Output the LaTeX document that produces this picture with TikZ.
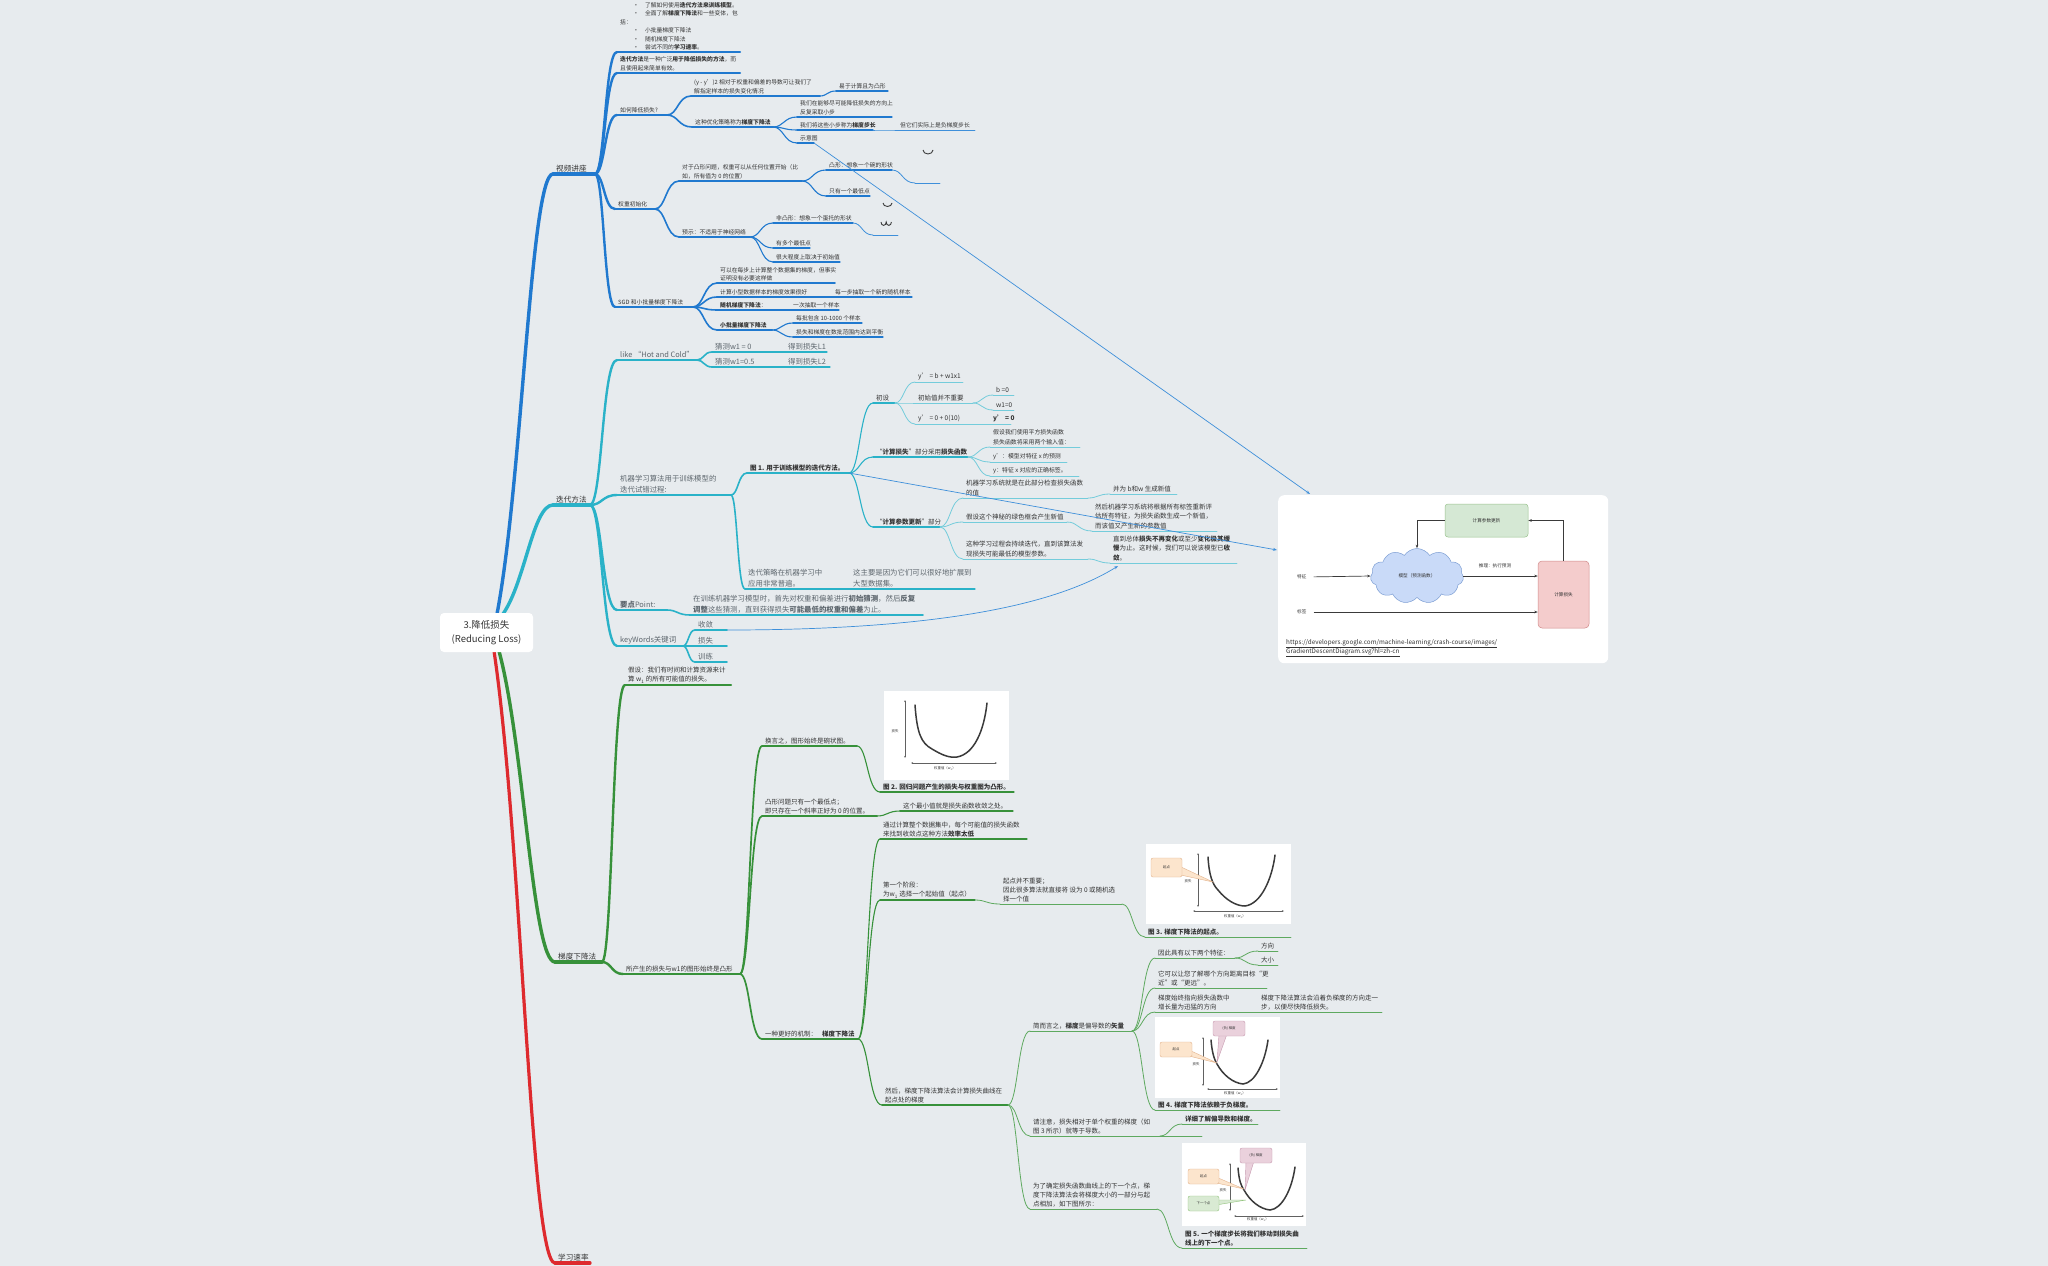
\documentclass[tikz,border=0pt]{standalone}
\usepackage{fontspec}
\setmainfont{Noto Sans CJK SC}
\usetikzlibrary{calc,arrows.meta,shapes.symbols}

\definecolor{bg}{HTML}{E7EBEE}
\definecolor{bl}{HTML}{2079CF}
\definecolor{bll}{HTML}{3E8FDA}
\definecolor{cy}{HTML}{2AB2C8}
\definecolor{cyl}{HTML}{74CCDB}
\definecolor{gr}{HTML}{37913A}
\definecolor{grl}{HTML}{5EA95F}
\definecolor{rd}{HTML}{DE2A2E}
\definecolor{tx}{HTML}{333333}
\definecolor{tg}{HTML}{5E676E}
\definecolor{ink}{HTML}{3A3A3A}
\definecolor{orF}{HTML}{FCE5CD}
\definecolor{orD}{HTML}{E3B48E}
\definecolor{pkF}{HTML}{EAD1DC}
\definecolor{pkD}{HTML}{C79AB0}
\definecolor{gnF}{HTML}{D9EAD3}
\definecolor{gnD}{HTML}{93C47D}
\definecolor{upF}{HTML}{D5E8D4}
\definecolor{upD}{HTML}{9AC38E}
\definecolor{mdF}{HTML}{C9DAF8}
\definecolor{mdD}{HTML}{7E9FD4}
\definecolor{lsF}{HTML}{F4CCCC}
\definecolor{lsD}{HTML}{D08A8A}

\tikzset{
  txt/.style={inner sep=0pt, anchor=south west, align=left, text=tx, font=\fontsize{5.8}{8.8}\selectfont},
  fI/.style={font=\fontsize{5.8}{8.4}\selectfont},
  fM/.style={font=\fontsize{7.6}{9}\selectfont},
  fG/.style={font=\fontsize{7.4}{10.4}\selectfont, text=tg},
  fC/.style={font=\fontsize{6.5}{9.5}\selectfont},
  fS/.style={font=\fontsize{5.9}{9.6}\selectfont},
  fN/.style={font=\fontsize{6.5}{9}\selectfont},
  bA/.style={draw=bl, line width=3.4pt, line cap=round},
  bB/.style={draw=bl, line width=2.4pt, line cap=round},
  bC/.style={draw=bl, line width=1.6pt, line cap=round},
  bD/.style={draw=bl, line width=1.1pt, line cap=round},
  bE/.style={draw=bll, line width=0.8pt, line cap=round},
  cA/.style={draw=cy, line width=3.4pt, line cap=round},
  cB/.style={draw=cy, line width=2.4pt, line cap=round},
  cC/.style={draw=cy, line width=1.6pt, line cap=round},
  cD/.style={draw=cy, line width=1.1pt, line cap=round},
  cE/.style={draw=cyl, line width=0.8pt, line cap=round},
  gA/.style={draw=gr, line width=3.4pt, line cap=round},
  gB/.style={draw=gr, line width=2.4pt, line cap=round},
  gC/.style={draw=gr, line width=1.7pt, line cap=round},
  gD/.style={draw=gr, line width=1.1pt, line cap=round},
  gE/.style={draw=grl, line width=0.8pt, line cap=round},
  rA/.style={draw=rd, line width=3.2pt, line cap=round},
  link/.style={draw=bll, line width=0.7pt, -{Stealth[length=4pt,width=3pt]}},
  dar/.style={draw=ink, line width=0.7pt, -{Stealth[length=3.5pt,width=2.6pt]}},
  dlab/.style={font=\fontsize{4.6}{5}\selectfont, text=tx, inner sep=0pt},
  axis/.style={draw=ink!80, line width=0.45pt, {Stealth[length=2.2pt,width=1.8pt]}-{Stealth[length=2.2pt,width=1.8pt]}},
  lcurve/.style={draw=ink, line width=1.5pt, line cap=round},
  plab/.style={font=\fontsize{3.4}{4}\selectfont, text=tx, inner sep=0pt},
  figbox/.style={fill=white, inner sep=0pt, anchor=north west},
  glyph/.style={draw=ink, line width=0.9pt},
}

% topic: underline from (x1,y) to (x2,y) with its text above
\newcommand\tp[7][]{%
  \coordinate (#2-s) at (#3,#5);
  \coordinate (#2-e) at (#4,#5);
  \draw[#6] (#2-s) -- (#2-e);
  \node[txt,#1] (#2) at ($(#2-s)+(3,-1.8)$) {#7};%
}
% branch curve from the end of one topic to the start of another
\newcommand\cn[3][]{\draw[#1] let \p1=(#2-e), \p2=(#3-s) in (\p1) .. controls ({\x1+0.45*(\x2-\x1)},\y1) and ({\x1+0.45*(\x2-\x1)},\y2) .. (\p2);}
% stem from the central topic
\newcommand\rc[3][]{\draw[#1] let \p1=(#2), \p2=(#3) in (\p1) .. controls ({\x1+0.45*(\x2-\x1)},{\y1+0.3*(\y2-\y1)}) and ({\x1+0.6*(\x2-\x1)},\y2) .. (\p2);}

\begin{document}
\begin{tikzpicture}[x=1pt,y=-1pt]
\useasboundingbox (0,0) rectangle (2048,1266);
\fill[bg] (0,0) rectangle (2048,1266);

% ================= 视频讲座 =================
\tp[fM]{vs}{553}{595}{174}{bA}{视频讲座}
\tp[fI]{bIntro}{617}{740}{52}{bB}{\hspace*{13pt}•\hspace*{6pt}了解如何使用\textbf{迭代方法来训练模型}。\\\hspace*{13pt}•\hspace*{6pt}全面了解\textbf{梯度下降法}和一些变体，包\\括：\\\hspace*{13pt}•\hspace*{6pt}小批量梯度下降法\\\hspace*{13pt}•\hspace*{6pt}随机梯度下降法\\\hspace*{13pt}•\hspace*{6pt}尝试不同的\textbf{学习速率}。}
\tp{bIter}{617}{740}{73}{bB}{\textbf{迭代方法}是一种广泛\textbf{用于降低损失的方法}，而\\且使用起来简单有效。}
\tp{bHow}{617}{667}{115}{bB}{如何降低损失?}
\tp{bHowA}{691}{820}{96}{bC}{(y - y')2  相对于权重和偏差的导数可让我们了\\解指定样本的损失变化情况}
\tp{bHowAa}{836}{888}{91}{bD}{易于计算且为凸形}
\tp{bHowB}{692}{773}{127}{bC}{这种优化策略称为\textbf{梯度下降法}}
\tp{bHowBa}{797}{892}{117}{bD}{我们在能够尽可能降低损失的方向上\\反复采取小步}
\tp{bHowBb}{797}{873}{130}{bD}{我们将这些小步称为\textbf{梯度步长}}
\tp{bHowBba}{897}{975}{130}{bE}{但它们实际上是负梯度步长}
\tp{bHowBc}{797}{814}{143}{bD}{示意图}
\tp{bInit}{615}{655}{209}{bB}{权重初始化}
\tp{bInitA}{679}{802}{181}{bC}{对于凸形问题，权重可以从任何位置开始（比\\如，所有值为 0 的位置）}
\tp{bInitAa}{826}{892}{170}{bD}{凸形：想象一个碗的形状}
\tp{bInitAaa}{915}{940}{183}{bE}{}
\tp{bInitAb}{826}{870}{196}{bD}{只有一个最低点}
\tp{bInitB}{679}{750}{237}{bC}{预示：不适用于神经网络}
\tp{bInitBa}{773}{853}{223}{bD}{非凸形：想象一个蛋托的形状}
\tp{bInitBaa}{873}{898}{235}{bE}{}
\tp{bInitBb}{773}{810}{248}{bD}{有多个最低点}
\tp{bInitBc}{773}{840}{262}{bD}{很大程度上取决于初始值}
\tp{bSgd}{615}{693}{307}{bB}{SGD 和小批量梯度下降法}
\tp[fI]{bSgdA}{717}{835}{283}{bC}{可以在每步上计算整个数据集的梯度，但事实\\证明没有必要这样做}
\tp{bSgdB}{717}{807}{297}{bC}{计算小型数据样本的梯度效果很好}
\tp{bSgdBa}{832}{912}{297}{bD}{每一步抽取一个新的随机样本}
\tp{bSgdC}{717}{767}{310}{bC}{\textbf{随机梯度下降法}：}
\tp{bSgdCa}{790}{839}{310}{bD}{一次抽取一个样本}
\tp{bSgdD}{717}{772}{330}{bC}{\textbf{小批量梯度下降法}}
\tp{bSgdDa}{793}{862}{323}{bD}{每批包含 10-1000 个样本}
\tp{bSgdDb}{793}{883}{337}{bD}{损失和梯度在数批范围内达到平衡}

\foreach \c in {bIntro,bIter,bHow,bInit,bSgd} {\cn[bB]{vs}{\c}}
\cn[bC]{bHow}{bHowA} \cn[bC]{bHow}{bHowB}
\cn[bD]{bHowA}{bHowAa}
\cn[bD]{bHowB}{bHowBa} \cn[bD]{bHowB}{bHowBb} \cn[bD]{bHowB}{bHowBc}
\cn[bE]{bHowBb}{bHowBba}
\cn[bC]{bInit}{bInitA} \cn[bC]{bInit}{bInitB}
\cn[bD]{bInitA}{bInitAa} \cn[bD]{bInitA}{bInitAb}
\cn[bE]{bInitAa}{bInitAaa}
\cn[bD]{bInitB}{bInitBa} \cn[bD]{bInitB}{bInitBb} \cn[bD]{bInitB}{bInitBc}
\cn[bE]{bInitBa}{bInitBaa}
\foreach \c in {bSgdA,bSgdB,bSgdC,bSgdD} {\cn[bC]{bSgd}{\c}}
\cn[bD]{bSgdB}{bSgdBa} \cn[bD]{bSgdC}{bSgdCa}
\cn[bD]{bSgdD}{bSgdDa} \cn[bD]{bSgdD}{bSgdDb}

% small bowl sketches
\draw[glyph] (923,150) arc[start angle=180,end angle=0,x radius=5,y radius=4];
\draw[glyph] (883,203) arc[start angle=180,end angle=0,x radius=4.5,y radius=3.5];
\draw[glyph] (881,222) arc[start angle=180,end angle=0,x radius=2.6,y radius=3.4] arc[start angle=180,end angle=0,x radius=2.6,y radius=3.4];

% ================= 迭代方法 =================
\tp[fM]{it}{553}{590}{505}{cA}{迭代方法}
\tp[fG]{cHot}{617}{697}{360}{cB}{like “Hot and Cold”}
\tp[fG]{cHotA}{712}{760}{352}{cC}{猜测w1 = 0}
\tp[fG]{cHotAa}{785}{827}{352}{cD}{得到损失L1}
\tp[fG]{cHotB}{712}{760}{367}{cC}{猜测w1=0.5}
\tp[fG]{cHotBa}{785}{830}{367}{cD}{得到损失L2}
\tp[fG]{cMl}{617}{731}{495}{cB}{机器学习算法用于训练模型的\\迭代试错过程:}
\tp[fC]{cFig}{747}{849}{473}{cC}{\textbf{图 1. 用于训练模型的迭代方法。}}
\tp[fC]{cIni}{873}{895}{403}{cD}{初设}
\tp[fC]{cIniA}{915}{963}{382}{cE}{y' = b + w1x1}
\tp[fC]{cIniB}{915}{973}{403}{cE}{初始值并不重要}
\tp[fC]{cIniBa}{993}{1014}{395}{cE}{b =0}
\tp[fC]{cIniBb}{993}{1014}{410}{cE}{w1=0}
\tp[fC]{cIniC}{915}{972}{424}{cE}{y' = 0 + 0(10)}
\tp[fC]{cIniCa}{990}{1011}{424}{cE}{\textbf{y' = 0}}
\tp[fC]{cLoss}{873}{968}{457}{cD}{“\textbf{计算损失}”部分采用\textbf{损失函数}}
\tp[fS]{cLossA}{990}{1080}{447}{cE}{假设我们使用平方损失函数\\损失函数将采用两个输入值：}
\tp[fS]{cLossB}{990}{1067}{462}{cE}{y'：模型对特征 x 的预测}
\tp[fS]{cLossC}{990}{1079}{476}{cE}{y：特征 x 对应的正确标签。}
\tp[fC]{cUpd}{873}{940}{527}{cD}{“\textbf{计算参数更新}”部分}
\tp[fC]{cUpdA}{963}{1088}{498}{cE}{机器学习系统就是在此部分检查损失函数\\的值}
\tp[fC]{cUpdAa}{1110}{1177}{494}{cE}{并为 b和w 生成新值}
\tp[fC]{cUpdB}{963}{1067}{522}{cE}{假设这个神秘的绿色框会产生新值}
\tp[fC]{cUpdBa}{1092}{1217}{531}{cE}{然后机器学习系统将根据所有标签重新评\\估所有特征，为损失函数生成一个新值，\\而该值又产生新的参数值}
\tp[fC]{cUpdC}{963}{1088}{559}{cE}{这种学习过程会持续迭代，直到该算法发\\现损失可能最低的模型参数。}
\tp[fC]{cUpdCa}{1110}{1237}{563}{cE}{直到总体\textbf{损失不再变化}或至少\textbf{变化极其缓}\\\textbf{慢}为止。这时候，我们可以说该模型已\textbf{收}\\\textbf{敛}。}
\tp[fG]{cStr}{745}{827}{589}{cC}{迭代策略在机器学习中\\应用非常普遍。}
\tp[fG]{cStrA}{850}{975}{589}{cD}{这主要是因为它们可以很好地扩展到\\大型数据集。}
\tp[fG]{cKey}{617}{667}{610}{cB}{\textbf{要点}Point:}
\tp[fG]{cKeyA}{690}{923}{615}{cC}{在训练机器学习模型时，首先对权重和偏差进行\textbf{初始猜测}，然后\textbf{反复}\\\textbf{调整}这些猜测，直到获得损失\textbf{可能最低的权重和偏差}为止。}
\tp[fG]{cKw}{617}{683}{646}{cB}{keyWords关键词}
\tp[fG]{cKwA}{695}{727}{630}{cC}{收敛}
\tp[fG]{cKwB}{695}{727}{646}{cC}{损失}
\tp[fG]{cKwC}{695}{727}{662}{cC}{训练}

\foreach \c in {cHot,cMl,cKey,cKw} {\cn[cB]{it}{\c}}
\cn[cC]{cHot}{cHotA} \cn[cC]{cHot}{cHotB}
\cn[cD]{cHotA}{cHotAa} \cn[cD]{cHotB}{cHotBa}
\cn[cC]{cMl}{cFig} \cn[cC]{cMl}{cStr}
\cn[cD]{cFig}{cIni} \cn[cD]{cFig}{cLoss} \cn[cD]{cFig}{cUpd}
\cn[cE]{cIni}{cIniA} \cn[cE]{cIni}{cIniB} \cn[cE]{cIni}{cIniC}
\cn[cE]{cIniB}{cIniBa} \cn[cE]{cIniB}{cIniBb} \cn[cE]{cIniC}{cIniCa}
\cn[cE]{cLoss}{cLossA} \cn[cE]{cLoss}{cLossB} \cn[cE]{cLoss}{cLossC}
\cn[cE]{cUpd}{cUpdA} \cn[cE]{cUpd}{cUpdB} \cn[cE]{cUpd}{cUpdC}
\cn[cE]{cUpdA}{cUpdAa} \cn[cE]{cUpdB}{cUpdBa} \cn[cE]{cUpdC}{cUpdCa}
\cn[cD]{cStr}{cStrA}
\cn[cC]{cKey}{cKeyA}
\cn[cC]{cKw}{cKwA} \cn[cC]{cKw}{cKwB} \cn[cC]{cKw}{cKwC}

% ================= 梯度下降法 =================
\tp[fM]{gd}{555}{602}{962}{gA}{梯度下降法}
\tp[fN]{gAs}{625}{731}{685}{gB}{假设：我们有时间和计算资源来计\\算 w\textsubscript{1} 的所有可能值的损失。}
\tp[fN]{gCv}{623}{740}{974}{gB}{所产生的损失与w1的图形始终是凸形}
\tp[fN]{gBowl}{762}{857}{746}{gC}{换言之，图形始终是碗状图。}
\tp[fN]{gFigB}{880}{1014}{792}{gD}{\textbf{图 2. 回归问题产生的损失与权重图为凸形。}}
\tp[fN]{gMin}{762}{877}{816}{gC}{凸形问题只有一个最低点；\\即只存在一个斜率正好为 0 的位置。}
\tp[fN]{gMinA}{900}{1013}{811}{gD}{这个最小值就是损失函数收敛之处。}
\tp[fN]{gBet}{762}{858}{1039}{gC}{一种更好的机制：\hspace{5pt}\textbf{梯度下降法}}
\tp[fN]{gIne}{880}{1027}{839}{gD}{通过计算整个数据集中，每个可能值的损失函数\\来找到收敛点这种方法\textbf{效率太低}}
\tp[fN]{gSt}{880}{975}{900}{gD}{第一个阶段：\\ 为w\textsubscript{1} 选择一个起始值（起点）}
\tp[fN]{gStA}{1000}{1122}{904}{gE}{起点并不重要；\\因此很多算法就直接将 设为 0 或随机选\\择一个值}
\tp[fN]{gFigC}{1145}{1291}{937}{gE}{\textbf{图 3. 梯度下降法的起点。}}
\tp[fN]{gThen}{882}{1008}{1105}{gD}{然后，梯度下降法算法会计算损失曲线在\\起点处的梯度}
\tp[fN]{gVec}{1030}{1132}{1031}{gE}{简而言之，\textbf{梯度}是偏导数的\textbf{矢量}}
\tp[fN]{gTwo}{1155}{1235}{958}{gE}{因此具有以下两个特征：}
\tp[fN]{gDir}{1258}{1278}{951}{gE}{方向}
\tp[fN]{gMag}{1258}{1278}{965}{gE}{大小}
\tp[fN]{gNear}{1155}{1267}{988}{gE}{它可以让您了解哪个方向距离目标“更\\近”或“更远”。}
\tp[fN]{gPt}{1155}{1240}{1012}{gE}{梯度始终指向损失函数中\\增长量为迅猛的方向}
\tp[fN]{gPtA}{1258}{1382}{1012}{gE}{梯度下降法算法会沿着负梯度的方向走一\\步，以便尽快降低损失。}
\tp[fN]{gFigD}{1155}{1280}{1110}{gE}{\textbf{图 4. 梯度下降法依赖于负梯度。}}
\tp[fN]{gNote}{1030}{1202}{1136}{gE}{请注意，损失相对于单个权重的梯度（如\\图 3 所示）就等于导数。}
\coordinate (gNoteB-e) at (1160,1136);
\tp[fN]{gMore}{1182}{1258}{1124}{gE}{\textbf{详细了解偏导数和梯度。}}
\tp[fN]{gNext}{1030}{1157}{1209}{gE}{为了确定损失函数曲线上的下一个点，梯\\度下降法算法会将梯度大小的一部分与起\\点相加，如下图所示：}
\tp[fN]{gFigE}{1182}{1307}{1248}{gE}{\textbf{图 5. 一个梯度步长将我们移动到损失曲}\\\textbf{线上的下一个点。}}

\cn[gB]{gd}{gAs} \cn[gB]{gd}{gCv}
\cn[gC]{gCv}{gBowl} \cn[gC]{gCv}{gMin} \cn[gC]{gCv}{gBet}
\cn[gD]{gBowl}{gFigB} \cn[gD]{gMin}{gMinA}
\cn[gD]{gBet}{gIne} \cn[gD]{gBet}{gSt} \cn[gD]{gBet}{gThen}
\cn[gE]{gSt}{gStA} \cn[gE]{gStA}{gFigC}
\cn[gE]{gThen}{gVec} \cn[gE]{gThen}{gNote} \cn[gE]{gThen}{gNext}
\cn[gE]{gVec}{gTwo} \cn[gE]{gVec}{gNear} \cn[gE]{gVec}{gPt} \cn[gE]{gVec}{gFigD}
\cn[gE]{gTwo}{gDir} \cn[gE]{gTwo}{gMag} \cn[gE]{gPt}{gPtA}
\cn[gE]{gNoteB}{gMore} \cn[gE]{gNext}{gFigE}

% ---- loss curve figures
\node[figbox, minimum width=125pt, minimum height=89pt] (figB) at (884,691) {};
\begin{scope}[shift={(884,691)}]
  \draw[axis] (21,9) -- (21,67);
  \draw[axis] (27,72) -- (113,72);
  \draw[lcurve] (31,14) .. controls (33,42) and (37,52) .. (48,58) .. controls (58,64) and (65,67) .. (73,66) .. controls (90,63) and (100,40) .. (103,12);
  \node[plab] (figBy) at (11,40) {损失};
  \node[plab] (figBx) at (61,78) {权重值（w\textsubscript{1}）};
\end{scope}

\node[figbox, minimum width=145pt, minimum height=80pt] (figC) at (1146,844) {};
\begin{scope}[shift={(1146,844)}]
  \draw[axis] (52,9) -- (52,63);
  \draw[axis] (47,67) -- (138,67);
  \draw[lcurve] (62,13) .. controls (63,30) and (66,40) .. (72,46) .. controls (80,56) and (90,62) .. (99,62) .. controls (115,60) and (126,35) .. (129,11);
  \filldraw[fill=orF, draw=orD, line width=0.4pt] (33,22) -- (67,38) -- (30,30) -- cycle;
  \filldraw[fill=orF, draw=orD, line width=0.4pt, rounded corners=2pt] (5,14) rectangle (36,33);
  \node[plab] (figCs) at (20.5,23.5) {起点};
  \node[plab] (figCy) at (42,37) {损失};
  \node[plab] (figCx) at (89,73) {权重值（w\textsubscript{1}）};
\end{scope}

\node[figbox, minimum width=125pt, minimum height=81pt] (figD) at (1155,1017) {};
\begin{scope}[shift={(1155,1017)}]
  \draw[axis] (48,20) -- (48,69);
  \draw[axis] (52,72) -- (123,72);
  \draw[lcurve] (56,23) .. controls (57,35) and (59,42) .. (62,47) .. controls (68,58) and (78,66) .. (88,67) .. controls (100,66) and (110,45) .. (113,23);
  \filldraw[fill=orF, draw=orD, line width=0.4pt] (34,33) -- (62,46) -- (30,38) -- cycle;
  \filldraw[fill=orF, draw=orD, line width=0.4pt, rounded corners=2pt] (5,25) rectangle (37,40);
  \filldraw[fill=pkF, draw=pkD, line width=0.4pt] (64,17) -- (62,45) -- (72,17) -- cycle;
  \filldraw[fill=pkF, draw=pkD, line width=0.4pt, rounded corners=2pt] (58,4) rectangle (90,19);
  \node[plab] (figDs) at (21,32.5) {起点};
  \node[plab] (figDg) at (74,11.5) {(负) 梯度};
  \node[plab] (figDy) at (41,47) {损失};
  \node[plab] (figDx) at (80,77) {权重值（w\textsubscript{1}）};
\end{scope}

\node[figbox, minimum width=124pt, minimum height=83pt] (figE) at (1182,1143) {};
\begin{scope}[shift={(1182,1143)}]
  \draw[axis] (48,20) -- (48,68);
  \draw[axis] (52,73) -- (122,73);
  \draw[lcurve] (56,25) .. controls (57,37) and (59,43) .. (62,47) .. controls (68,58) and (78,66) .. (88,67) .. controls (100,66) and (110,46) .. (113,24);
  \filldraw[fill=orF, draw=orD, line width=0.4pt] (34,34) -- (62,46) -- (30,39) -- cycle;
  \filldraw[fill=orF, draw=orD, line width=0.4pt, rounded corners=2pt] (6,26) rectangle (37,41);
  \filldraw[fill=pkF, draw=pkD, line width=0.4pt] (64,18) -- (63,47) -- (72,18) -- cycle;
  \filldraw[fill=pkF, draw=pkD, line width=0.4pt, rounded corners=2pt] (58,5) rectangle (90,20);
  \filldraw[fill=gnF, draw=gnD, line width=0.4pt] (34,57) -- (64,57) -- (34,62) -- cycle;
  \filldraw[fill=gnF, draw=gnD, line width=0.4pt, rounded corners=2pt] (6,53) rectangle (37,68);
  \node[plab] (figEs) at (21.5,33.5) {起点};
  \node[plab] (figEg) at (74,12.5) {(负) 梯度};
  \node[plab] (figEn) at (21.5,60.5) {下一个点};
  \node[plab] (figEy) at (41,47) {损失};
  \node[plab] (figEx) at (76,77) {权重值（w\textsubscript{1}）};
\end{scope}

% ================= 学习速率 =================
\tp[fM]{lr}{555}{590}{1263}{rA}{学习速率}

% ================= training loop diagram =================
\node[fill=white, rounded corners=6pt, minimum width=330pt, minimum height=168pt, inner sep=0pt, anchor=north west] (diag) at (1278,495) {};
\node[fill=upF, draw=upD, line width=0.5pt, rounded corners=3pt, minimum width=83pt, minimum height=33pt, inner sep=0pt, dlab] (upd) at (1486.5,520.5) {计算参数更新};
\node[cloud, cloud puffs=11, cloud puff arc=115, aspect=1.7, fill=mdF, draw=mdD, line width=0.5pt, minimum width=93pt, minimum height=55pt, inner sep=0pt, dlab] (model) at (1417,576) {模型（预测函数）};
\node[fill=lsF, draw=lsD, line width=0.5pt, rounded corners=4pt, minimum width=51pt, minimum height=67pt, inner sep=0pt, dlab] (lossb) at (1563.5,594.5) {计算损失};
\node[dlab, anchor=west] (feat) at (1297,577) {特征};
\node[dlab, anchor=west] (lab) at (1297,612) {标签};
\node[dlab] (infer) at (1495,566) {推理：执行预测};
\draw[dar, shorten <=7pt] (feat.east) -- (model.west);
\draw[dar] (model.east) -- (model.east -| lossb.west);
\draw[dar, shorten <=7pt] (lab.east) -- (lab.east -| lossb.west);
\draw[dar] (lossb.north) |- (upd.east);
\draw[dar] (upd.west) -| (model.north);
\node[anchor=north west, inner sep=0pt, align=left, text=tx, font=\fontsize{6.3}{9}\selectfont] (url) at (1286,639) {\underline{https://developers.google.com/machine-learning/crash-course/images/}\\\underline{GradientDescentDiagram.svg?hl=zh-cn}};

% ---- cross links
\coordinate (arrB) at (1310,494);
\coordinate (arrA) at (1277,550);
\coordinate (arrC) at (1118,566);
\draw[link] (bHowBc-e) -- (arrB);
\draw[link] (cFig-e) -- (arrA);
\draw[link] (cKwA-e) .. controls (950,630) and (1060,602) .. (arrC);

% ================= central topic =================
\coordinate (rtB) at (497,614);
\coordinate (rtC) at (503,614);
\coordinate (rtG) at (499,651);
\coordinate (rtR) at (494,651);
\rc[bA]{rtB}{vs-s}
\rc[cA]{rtC}{it-s}
\rc[gA]{rtG}{gd-s}
\rc[rA]{rtR}{lr-s}
\node[fill=white, rounded corners=4pt, minimum width=93pt, minimum height=39pt, inner sep=0pt, align=center, text=tx, font=\fontsize{9.5}{14.5}\selectfont] (root) at (486.5,632.5) {3.降低损失\\(Reducing Loss)};
\end{tikzpicture}
\end{document}
